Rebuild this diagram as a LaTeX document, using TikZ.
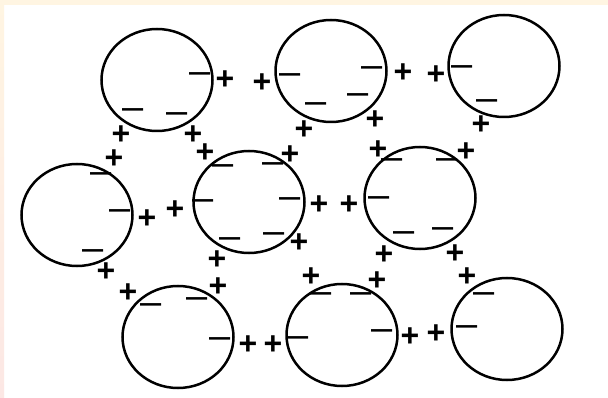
\documentclass[tikz,border=0pt]{standalone}
\usepackage{fontspec}
\setmainfont{Liberation Sans}
\usetikzlibrary{shapes.geometric}
\definecolor{bandtop}{HTML}{FFF5E2}
\definecolor{bandside}{HTML}{FCE7E4}

\begin{document}
\begin{tikzpicture}[x=1pt,y=-1pt,
   ion/.style={draw,ellipse,line width=2.5pt,minimum width=111pt,
               minimum height=102pt,inner sep=0pt},
   cation/.style={inner sep=0pt,text height=18.8pt,text depth=-3.7pt,
               font=\fontsize{32}{32}\selectfont\bfseries},
   anion/.style={inner sep=0pt,text height=11.8pt,text depth=-9.1pt,
               font=\fontsize{38}{38}\selectfont},
]
% ----- frame
\useasboundingbox (0,0) rectangle (608,398);
\fill[white] (0,0) rectangle (608,398);
\fill[bandtop] (0,0) rectangle (608,5);
\shade[top color=bandtop,bottom color=bandside] (0,0) rectangle (4,398);

% ----- ions
\node[ion] (c1) at (157,80)  {};
\node[ion] (c2) at (331,71)  {};
\node[ion] (c3) at (504,66)  {};
\node[ion] (c4) at (77,215)  {};
\node[ion] (c5) at (249,202) {};
\node[ion] (c6) at (420,198) {};
\node[ion] (c7) at (178,337) {};
\node[ion] (c8) at (342,335) {};
\node[ion] (c9) at (507,329) {};

% ----- charges at the rims
\foreach \x/\y [count=\i] in {200/78,133/114,177/118,290/79,372/72,316/108,
      358/99,462/71,487/105,101/178,120/215,93/255,223/170,273/168,203/205,
      290/203,230/243,274/238,392/164,447/164,379/202,404/237,443/233,
      151/309,197/303,220/343,298/342,321/298,361/298,382/335,484/298,467/331}
   \node[anion] (m\i) at (\x,\y) {\textendash};

% ----- charges in between
\foreach \x/\y [count=\i] in {225/80,262/83,403/73,436/75,147/219,175/210,
      319/205,349/205,248/345,273/345,410/337,436/334,121/135,114/159,
      193/135,205/153,304/130,290/155,375/120,378/150,481/125,466/152,
      106/272,128/293,217/260,218/287,299/243,311/277,384/255,377/281,
      455/254,467/277}
   \node[cation] (p\i) at (\x,\y) {+};
\end{tikzpicture}
\end{document}
